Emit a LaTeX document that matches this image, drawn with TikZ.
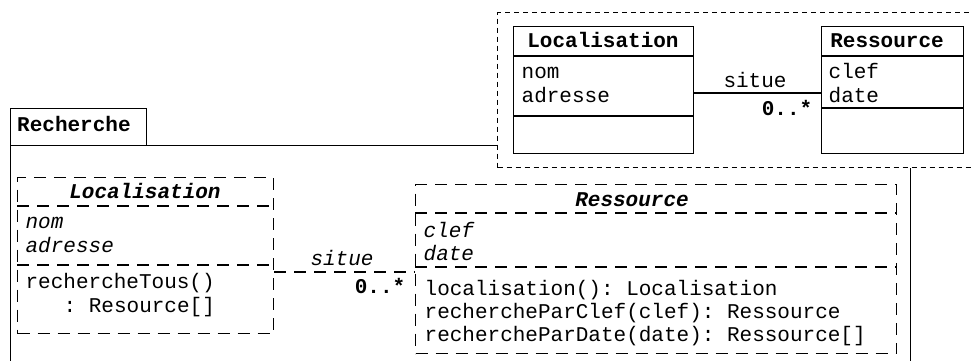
\documentclass[tikz,border=0pt]{standalone}
\usepackage{fontspec}
\setmonofont{Liberation Mono}
\usetikzlibrary{calc}
\tikzset{
  txt/.style={font=\ttfamily\fontsize{21}{24}\selectfont, inner sep=0pt,
    text height=15pt, text depth=5pt},
  hdr/.style={txt, font=\ttfamily\bfseries\fontsize{21}{24}\selectfont},
  ihdr/.style={txt, font=\ttfamily\bfseries\itshape\fontsize{21}{24}\selectfont},
  itxt/.style={txt, font=\ttfamily\itshape\fontsize{21}{24}\selectfont},
  boxline/.style={line width=1.3pt},
  solidbox/.style={draw, boxline, fill=white, inner sep=0pt, anchor=north west},
  dashbox/.style={solidbox, dash pattern=on 12pt off 8pt},
  dashline/.style={boxline, dash pattern=on 12pt off 8pt},
  dotbox/.style={solidbox, dash pattern=on 5pt off 4pt}
}
% dividers of a class box: box name, y of first line, y of second line
\def\classLines#1#2#3{
  \coordinate (#1-a) at (0,#2);
  \coordinate (#1-b) at (0,#3);
  \draw (#1.west |- #1-a) -- (#1.east |- #1-a);
  \draw (#1.west |- #1-b) -- (#1.east |- #1-b);
}

\begin{document}
\begin{tikzpicture}[x=1pt, y=-1pt]
  \useasboundingbox (0,0) rectangle (973,360);
  \clip (0,0) rectangle (973,360);

  % package Recherche
  \node[solidbox, minimum width=900pt, minimum height=240pt] (pkg) at (10,145) {};
  \node[solidbox, minimum width=136pt, minimum height=37pt] (pkgTab) at (10,108) {};
  \node[hdr, anchor=west] (pkgName) at (17,126) {Recherche};

  % imported context
  \node[dotbox, minimum width=500pt, minimum height=155pt] (ctx) at (497,12) {};

  \begin{scope}[boxline]
  \node[solidbox, minimum width=180pt, minimum height=127pt] (locTop) at (513,26) {};
  \classLines{locTop}{56}{116}
  \node[hdr] (locTopName) at (603,42) {Localisation};
  \node[txt, anchor=west] (locTopNom) at (521,73) {nom};
  \node[txt, anchor=west] (locTopAdr) at (521,97) {adresse};

  \node[solidbox, minimum width=142pt, minimum height=127pt] (resTop) at (821,26) {};
  \classLines{resTop}{56}{108}
  \node[hdr] (resTopName) at (887,42) {Ressource};
  \node[txt, anchor=west] (resTopClef) at (828,73) {clef};
  \node[txt, anchor=west] (resTopDate) at (828,97) {date};

  \coordinate (topLine) at (0,93);
  \draw (locTop.east |- topLine) -- (resTop.west |- topLine);
  \node[txt] (topRole) at (755,82) {situe};
  \node[hdr] (topMult) at (787,110) {0..*};
  \end{scope}

  \begin{scope}[dashline]
  \node[dashbox, minimum width=256pt, minimum height=156pt] (locBot) at (17,177) {};
  \classLines{locBot}{206}{265}
  \node[ihdr] (locBotName) at (145,193) {Localisation};
  \node[itxt, anchor=west] (locBotNom) at (25,223) {nom};
  \node[itxt, anchor=west] (locBotAdr) at (25,247) {adresse};
  \node[txt, anchor=west] (locBotOp) at (25,283) {rechercheTous()};
  \node[txt, anchor=west] (locBotRet) at (63,307) {: Resource[]};

  \node[dashbox, minimum width=481pt, minimum height=169pt] (resBot) at (415,184) {};
  \classLines{resBot}{213}{267}
  \node[ihdr] (resBotName) at (632,201) {Ressource};
  \node[itxt, anchor=west] (resBotClef) at (423,232) {clef};
  \node[itxt, anchor=west] (resBotDate) at (423,255) {date};
  \node[txt, anchor=west] (resBotOpA) at (424,290) {localisation(): Localisation};
  \node[txt, anchor=west] (resBotOpB) at (424,313) {rechercheParClef(clef): Ressource};
  \node[txt, anchor=west] (resBotOpC) at (424,336) {rechercheParDate(date): Ressource[]};

  \coordinate (botLine) at (0,272);
  \draw (locBot.east |- botLine) -- (resBot.west |- botLine);
  \node[itxt] (botRole) at (342,260) {situe};
  \node[hdr] (botMult) at (380,288) {0..*};
  \end{scope}
\end{tikzpicture}
\end{document}
